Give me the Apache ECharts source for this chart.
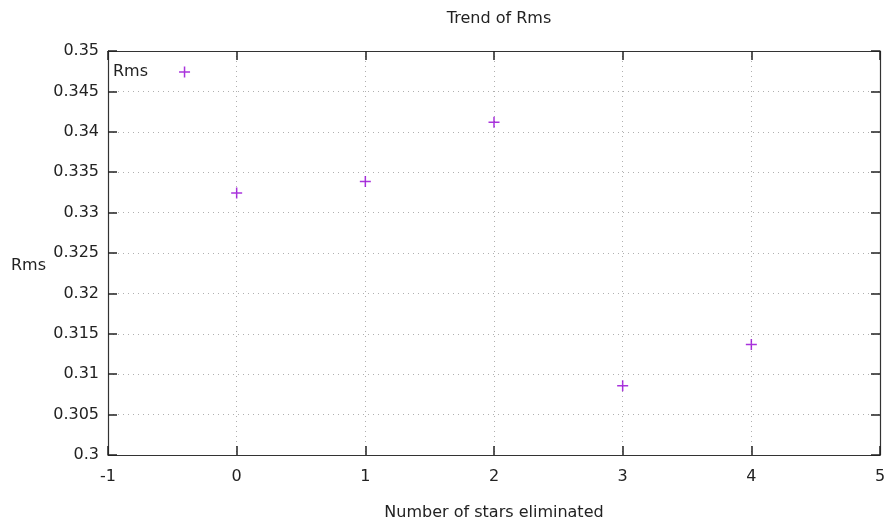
<!DOCTYPE html>
<html>
<head>
<meta charset="utf-8">
<script src="https://cdn.jsdelivr.net/npm/echarts@6/dist/echarts.min.js"></script>
<style>html,body{margin:0;padding:0;background:#fff;}#c{width:890px;height:526px;}</style>
</head>
<body>
<div id="c"></div>
<script>
const xValues = [0, 1, 2, 3, 4];
const rmsValues = [0.33244, 0.33385, 0.34118, 0.30857, 0.31369];
const seriesName = 'Rms';
const titleText = 'Trend of Rms';
const xName = 'Number of stars eliminated';
const yName = 'Rms';

const FONT = 'DejaVu Sans';
const plus = 'path://M0,5L10,5M5,0L5,10';
const chart = echarts.init(document.getElementById('c'));
const gridLine = {show: true, lineStyle: {color: '#b0b0b0', type: [1, 4], width: 1}};
const axisLine = {show: true, onZero: false, lineStyle: {color: '#333', width: 1.2}};
const tick = {show: true, inside: true, length: 9, lineStyle: {color: '#222', width: 1.5}};
chart.setOption({
  animation: false,
  title: {text: titleText, left: 494, top: 6, textAlign: 'center',
    textStyle: {fontFamily: FONT, fontSize: 16, fontWeight: 'normal', color: '#222'}},
  legend: {left: 113, top: 64, align: 'right', itemWidth: 11, itemHeight: 11, padding: 0,
    data: [{name: seriesName, icon: plus, itemStyle: {color: 'none', borderColor: '#9400d3', borderWidth: 1.5}}],
    textStyle: {fontFamily: FONT, fontSize: 16, color: '#222', padding: [0, 26, 0, 0]}},
  grid: {left: 108, right: 10, top: 51, bottom: 71, outerBoundsMode: 'none', containLabel: false},
  xAxis: [{type: 'value', min: -1, max: 5, interval: 1,
    name: xName, nameLocation: 'middle', nameGap: 50,
    nameTextStyle: {fontFamily: FONT, fontSize: 16, color: '#222'},
    axisLine: axisLine, axisTick: tick, splitLine: gridLine,
    axisLabel: {fontFamily: FONT, fontSize: 16, color: '#222', margin: 14}},
   {type: 'value', position: 'top', min: -1, max: 5, interval: 1,
    axisLine: axisLine, axisTick: tick, splitLine: {show: false}, axisLabel: {show: false}}],
  yAxis: [{type: 'value', min: 0.3, max: 0.35, interval: 0.005,
    name: yName, nameLocation: 'middle', nameRotate: 0, nameGap: 62,
    nameTextStyle: {fontFamily: FONT, fontSize: 16, color: '#222', verticalAlign: 'top', lineHeight: 26},
    axisLine: axisLine, axisTick: tick, splitLine: gridLine,
    axisLabel: {fontFamily: FONT, fontSize: 16, color: '#222', margin: 9,
      formatter: v => String(parseFloat(v.toFixed(3)))}},
   {type: 'value', position: 'right', min: 0.3, max: 0.35, interval: 0.005,
    axisLine: axisLine, axisTick: tick, splitLine: {show: false}, axisLabel: {show: false}}],
  series: [{name: seriesName, type: 'scatter', symbol: plus, symbolSize: 11,
    itemStyle: {color: 'none', borderColor: '#9400d3', borderWidth: 1.5},
    data: xValues.map((x, i) => [x, rmsValues[i]])}]
});
</script>
</body>
</html>
